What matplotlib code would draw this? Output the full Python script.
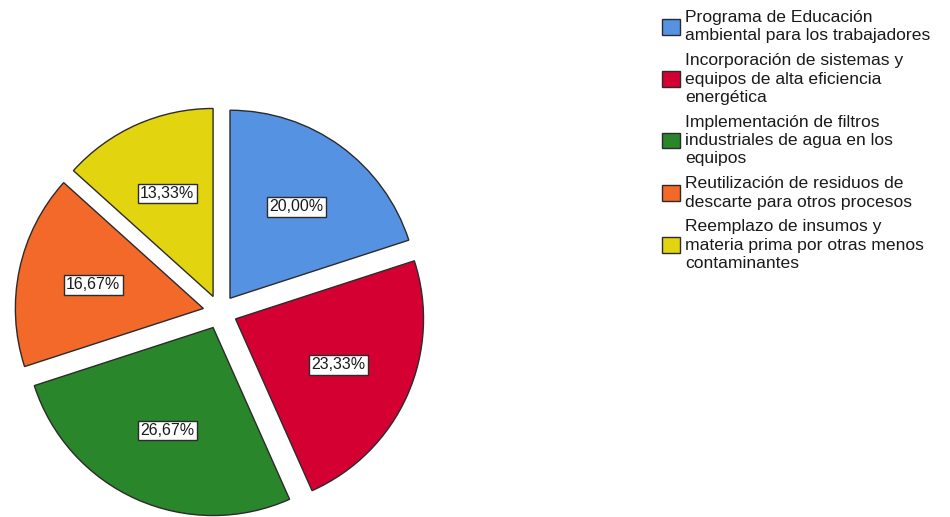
import matplotlib.pyplot as plt
from matplotlib.patches import Patch

plt.rcParams['font.family'] = ['Liberation Sans', 'DejaVu Sans']

# Porcentaje de respuestas por medida propuesta
categorias = [
    "Programa de Educación\nambiental para los trabajadores",
    "Incorporación de sistemas y\nequipos de alta eficiencia\nenergética",
    "Implementación de filtros\nindustriales de agua en los\nequipos",
    "Reutilización de residuos de\ndescarte para otros procesos",
    "Reemplazo de insumos y\nmateria prima por otras menos\ncontaminantes",
]
porcentajes = [20.00, 23.33, 26.67, 16.67, 13.33]
colores = ["#5592E2", "#D50032", "#29862A", "#F2692A", "#E2D50F"]

fig = plt.figure(figsize=(9.5, 5.17), dpi=100)
ax = fig.add_axes([0, 0, 1, 1])

# pie in pixel-like coordinates so the layout is easy to place
wedges, textos, pct = ax.pie(
    porcentajes, colors=colores, startangle=90, counterclock=False,
    center=(220, 205), radius=188, explode=[17] * len(porcentajes),
    autopct=lambda p: f"{p:.2f}%".replace(".", ","), pctdistance=0.6,
    wedgeprops=dict(edgecolor="#2b2b2b", linewidth=1),
    textprops=dict(fontsize=11.5, color="#1a1a1a"),
)
for t in pct:
    t.set_bbox(dict(boxstyle="square,pad=0.15", fc="white", ec="#2b2b2b", lw=1))

ax.set_xlim(0, 950)
ax.set_ylim(0, 517)
ax.set_aspect("equal")
ax.axis("off")

handles = [Patch(facecolor=c, edgecolor="#2b2b2b", linewidth=1) for c in colores]
leg = fig.legend(handles, categorias, loc="upper left",
                 bbox_to_anchor=(662 / 950, 1 - 10 / 517), frameon=False,
                 fontsize=12.6, handlelength=1.0, handleheight=1.0,
                 handletextpad=0.3, labelspacing=0.56, borderpad=0,
                 borderaxespad=0)
for t in leg.get_texts():
    t.set_linespacing(1.28)
    t.set_color("#1a1a1a")

fig.savefig("out.png", dpi=100)
